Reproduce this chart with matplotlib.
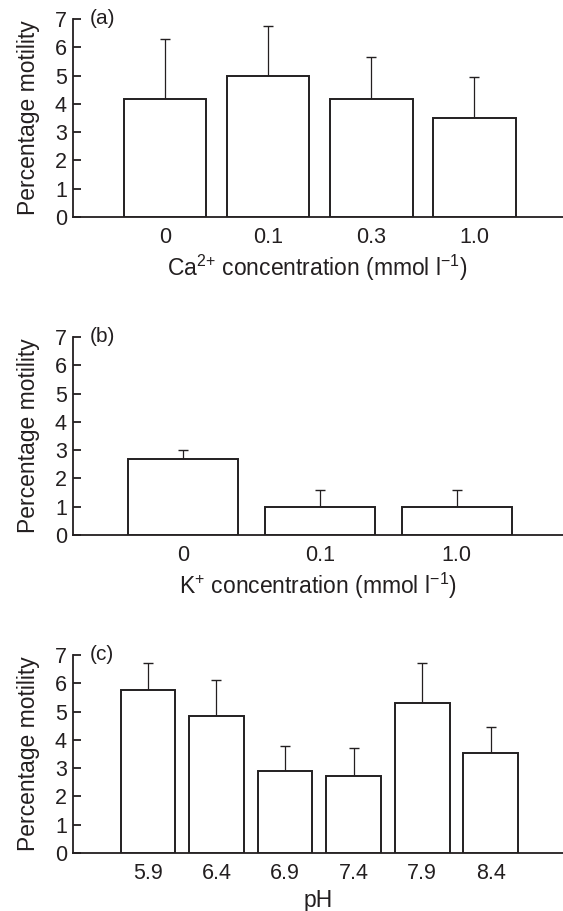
import numpy as np
import matplotlib
matplotlib.use("Agg")
import matplotlib.pyplot as plt

plt.rcParams['font.family'] = ['Liberation Sans', 'DejaVu Sans']
plt.rcParams['mathtext.fontset'] = 'custom'
plt.rcParams['mathtext.rm'] = 'Liberation Sans'
plt.rcParams['mathtext.it'] = 'Liberation Sans'
plt.rcParams['mathtext.bf'] = 'Liberation Sans:bold'

ink = '#231f20'

# panel (a): calcium
ca_labels = ['0', '0.1', '0.3', '1.0']
ca_mean = [4.17, 5.0, 4.17, 3.51]
ca_err = [2.11, 1.77, 1.49, 1.44]

# panel (b): potassium
k_labels = ['0', '0.1', '1.0']
k_mean = [2.67, 1.0, 1.0]
k_err = [0.33, 0.6, 0.6]

# panel (c): pH
ph_labels = ['5.9', '6.4', '6.9', '7.4', '7.9', '8.4']
ph_mean = [5.77, 4.83, 2.91, 2.71, 5.29, 3.52]
ph_err = [0.96, 1.29, 0.86, 1.01, 1.43, 0.95]

fig = plt.figure(figsize=(5.63, 9.11), dpi=100)

left = 0.1288
width = 1 - left
h = 198 / 911

panels = [
    (1 - 217 / 911, ca_labels, ca_mean, ca_err, (-0.894, 3.858), '(a)',
     r'Ca$^{\mathregular{2{+}}}$ concentration (mmol l$^{\mathregular{-1}}$)'),
    (1 - 535 / 911, k_labels, k_mean, k_err, (-0.806, 2.776), '(b)',
     r'K$^{\mathregular{{+}}}$ concentration (mmol l$^{\mathregular{-1}}$)'),
    (1 - 853 / 911, ph_labels, ph_mean, ph_err, (-1.1, 6.055), '(c)',
     'pH'),
]

for bottom, labels, mean, err, xl, tag, xlab in panels:
    ax = fig.add_axes([left, bottom, width, h])
    x = np.arange(len(labels))
    ax.bar(x, mean, width=0.8, color='white', edgecolor=ink, linewidth=1.4, zorder=3)
    ax.errorbar(x, mean, yerr=[np.zeros(len(err)), err], fmt='none',
                ecolor=ink, elinewidth=0.9, capsize=3.5, capthick=1.0, zorder=2)
    ax.set_xlim(*xl)
    ax.set_ylim(0, 7)
    ax.set_yticks(range(8))
    ax.set_xticks(x)
    ax.set_xticklabels(labels)
    for s in ['top', 'right']:
        ax.spines[s].set_visible(False)
    for s in ['left', 'bottom']:
        ax.spines[s].set_linewidth(1.3)
        ax.spines[s].set_color(ink)
    ax.tick_params(axis='y', direction='in', length=6, width=1.3, color=ink,
                   labelsize=15.5, labelcolor=ink, pad=4)
    ax.tick_params(axis='x', length=0, labelsize=15.5, labelcolor=ink, pad=7)
    ax.set_ylabel('Percentage motility', fontsize=16.5, color=ink, labelpad=11)
    ax.set_xlabel(xlab, fontsize=16.5, color=ink, labelpad=4)
    ax.text(0.035, 1.0, tag, transform=ax.transAxes, fontsize=15, color=ink,
            ha='left', va='center')
    ax.patch.set_alpha(0)

fig.savefig('out.png', dpi=100)
